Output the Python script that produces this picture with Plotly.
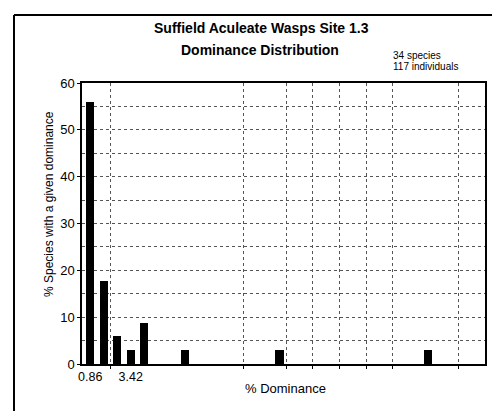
import plotly.graph_objects as go

# Data: % dominance (individuals of a species / 117 * 100) and % of species (of 34)
dominance = [0.855, 1.709, 2.564, 3.419, 4.274, 6.838, 12.821, 22.222]
pct_species = [55.88, 17.65, 5.88, 2.94, 8.82, 2.94, 2.94, 2.94]
tick_vals = [0.855, 3.419]
tick_text = ["0.86", "3.42"]
grid_x = [2.11, 10.53, 13.25, 14.90, 16.61, 18.32, 19.96, 24.14]

FONT = "Liberation Sans"
GRID = "#555555"

fig = go.Figure()
fig.add_trace(go.Bar(x=dominance, y=pct_species, width=0.52,
                     marker=dict(color="black", line=dict(width=0))))

L, R, T, B = 74, 23, 75, 55
W, H = 500, 411
pw, ph = W - L - R, H - T - B

def px(xp):
    return (xp - L) / pw

def py(yp):
    return (H - B - yp) / ph

ann = [
    dict(text="<b>Suffield Aculeate Wasps Site 1.3</b>", x=px(253), y=py(20),
         font=dict(size=14, family=FONT, color="black"), xanchor="center", yanchor="middle"),
    dict(text="<b>Dominance Distribution</b>", x=px(252), y=py(42),
         font=dict(size=14, family=FONT, color="black"), xanchor="center", yanchor="middle"),
    dict(text="34 species", x=px(383), y=py(48),
         font=dict(size=10, family=FONT, color="black"), xanchor="left", yanchor="middle"),
    dict(text="117 individuals", x=px(383), y=py(58),
         font=dict(size=10, family=FONT, color="black"), xanchor="left", yanchor="middle"),
    dict(text="% Species with a given dominance", x=px(41), y=py(196), textangle=-90,
         font=dict(size=12, family=FONT, color="black"), xanchor="center", yanchor="middle"),
    dict(text="% Dominance", x=px(277), y=py(380),
         font=dict(size=13, family=FONT, color="black"), xanchor="center", yanchor="middle"),
]
for a in ann:
    a.update(xref="paper", yref="paper", showarrow=False)

shapes = [
    dict(type="line", xref="paper", yref="paper", x0=px(6), x1=px(500), y0=py(7), y1=py(7),
         line=dict(color="black", width=2)),
    dict(type="line", xref="paper", yref="paper", x0=px(6), x1=px(6), y0=py(7), y1=py(411),
         line=dict(color="black", width=2)),
]

fig.update_layout(
    width=W, height=H,
    margin=dict(l=L, r=R, t=T, b=B),
    paper_bgcolor="white", plot_bgcolor="white",
    showlegend=False,
    annotations=ann, shapes=shapes,
    font=dict(family=FONT, color="black"),
    xaxis=dict(range=[0.336, 25.82], tickmode="array", tickvals=tick_vals, ticktext=tick_text,
               showgrid=False, zeroline=False, ticks="", showline=True, linecolor="black",
               linewidth=1.5, mirror=True, tickfont=dict(size=12.5, family=FONT, color="black"),
               minor=dict(tickmode="array", tickvals=grid_x, showgrid=True, gridcolor=GRID,
                          griddash="dot", gridwidth=1, ticks="outside", ticklen=3,
                          tickcolor="black")),
    yaxis=dict(range=[0, 60], dtick=10, showgrid=True, gridcolor=GRID, griddash="dot",
               gridwidth=1, zeroline=False, ticks="outside", ticklen=3, tickcolor="black",
               showline=True, linecolor="black", linewidth=1.5, mirror=True,
               tickfont=dict(size=13, family=FONT, color="black"),
               minor=dict(dtick=5, showgrid=True, gridcolor=GRID, griddash="dot",
                          gridwidth=1)),
    bargap=0,
)

fig.write_html("out.html")
